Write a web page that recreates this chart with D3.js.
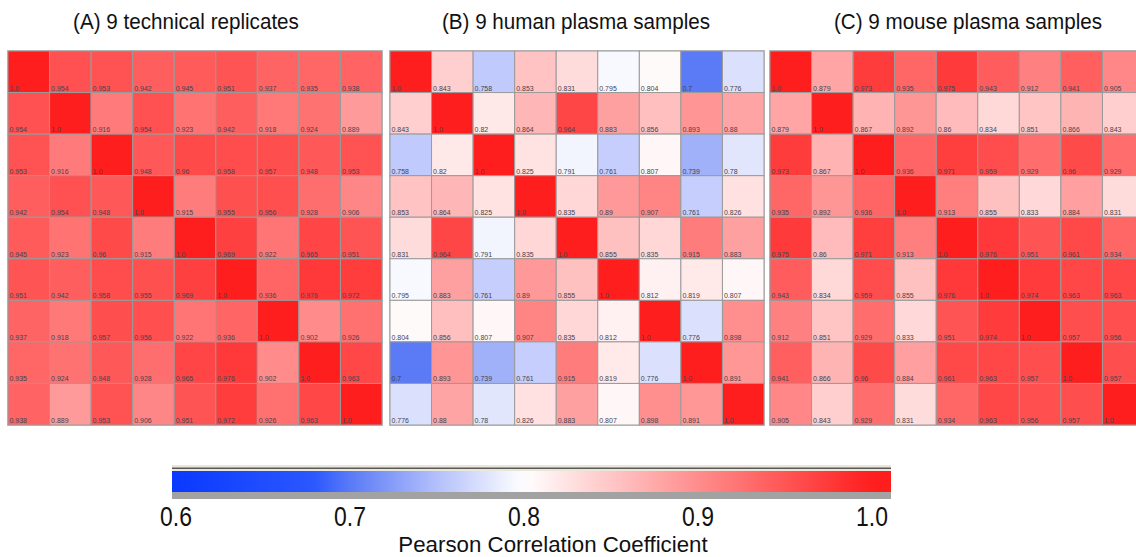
<!DOCTYPE html>
<html>
<head>
<meta charset="utf-8">
<script src="https://cdn.jsdelivr.net/npm/d3@7"></script>
<style>
  html, body { margin: 0; padding: 0; background: #fff; }
  svg { display: block; }
</style>
</head>
<body>
<svg id="chart" width="1136" height="557"></svg>
<script>
// ---- DATA ----
const samples = ["1","2","3","4","5","6","7","8","9"];
const panelTitles = ["(A) 9 technical replicates", "(B) 9 human plasma samples", "(C) 9 mouse plasma samples"];

const matrixA = [
  [1.0, .954, .953, .942, .945, .951, .937, .935, .938],
  [.954, 1.0, .916, .954, .923, .942, .918, .924, .889],
  [.953, .916, 1.0, .948, .96, .958, .957, .948, .953],
  [.942, .954, .948, 1.0, .915, .955, .956, .928, .906],
  [.945, .923, .96, .915, 1.0, .969, .922, .965, .951],
  [.951, .942, .958, .955, .969, 1.0, .936, .976, .972],
  [.937, .918, .957, .956, .922, .936, 1.0, .902, .926],
  [.935, .924, .948, .928, .965, .976, .902, 1.0, .963],
  [.938, .889, .953, .906, .951, .972, .926, .963, 1.0]
];
const matrixB = [
  [1.0, .843, .758, .853, .831, .795, .804, .7, .776],
  [.843, 1.0, .82, .864, .964, .883, .856, .893, .88],
  [.758, .82, 1.0, .825, .791, .761, .807, .739, .78],
  [.853, .864, .825, 1.0, .835, .89, .907, .761, .826],
  [.831, .964, .791, .835, 1.0, .855, .835, .915, .883],
  [.795, .883, .761, .89, .855, 1.0, .812, .819, .807],
  [.804, .856, .807, .907, .835, .812, 1.0, .776, .898],
  [.7, .893, .739, .761, .915, .819, .776, 1.0, .891],
  [.776, .88, .78, .826, .883, .807, .898, .891, 1.0]
];
const matrixC = [
  [1.0, .879, .973, .935, .975, .943, .912, .941, .905],
  [.879, 1.0, .867, .892, .86, .834, .851, .866, .843],
  [.973, .867, 1.0, .936, .971, .959, .929, .96, .929],
  [.935, .892, .936, 1.0, .913, .855, .833, .884, .831],
  [.975, .86, .971, .913, 1.0, .976, .951, .961, .934],
  [.943, .834, .959, .855, .976, 1.0, .974, .963, .963],
  [.912, .851, .929, .833, .951, .974, 1.0, .957, .956],
  [.941, .866, .96, .884, .961, .963, .957, 1.0, .957],
  [.905, .843, .929, .831, .934, .963, .956, .957, 1.0]
];
const colorTicks = [0.6, 0.7, 0.8, 0.9, 1.0];
const colorbarTitle = "Pearson Correlation Coefficient";

// ---- LAYOUT ----
const svg = d3.select("#chart");
const FONT = "Liberation Sans, Arial, sans-serif";
const panels = [
  { m: matrixA, x0: 8,   titleX: 186 },
  { m: matrixB, x0: 390, titleX: 576 },
  { m: matrixC, x0: 770, titleX: 968 }
];
const gridTop = 51, gridSize = 374;

const color = d3.scaleLinear()
  .domain([0.6, 0.68, 0.7, 0.75, 0.8, 0.9, 1.0])
  .range(["#0a3aff", "#2c58ff", "#5a7af6", "#b4c0fb", "#ffffff", "#ff8d8d", "#ff1e1e"])
  .clamp(true);

const fmt = v => v === 1 ? "1.0" : String(+v);

panels.forEach((p, pi) => {
  const xs = d3.scaleBand().domain(samples).range([p.x0, p.x0 + gridSize]);
  const ys = d3.scaleBand().domain(samples).range([gridTop, gridTop + gridSize]);
  const g = svg.append("g");
  const cells = [];
  p.m.forEach((row, ri) => row.forEach((v, ci) => cells.push({ r: samples[ri], c: samples[ci], v })));

  g.append("rect")
    .attr("x", p.x0 - 0.5).attr("y", gridTop - 0.5)
    .attr("width", gridSize + 1).attr("height", gridSize + 1)
    .attr("fill", "none").attr("stroke", "#c8c8c8").attr("stroke-width", 1);

  g.selectAll("rect.cell").data(cells).enter().append("rect")
    .attr("class", "cell")
    .attr("x", d => xs(d.c)).attr("y", d => ys(d.r))
    .attr("width", xs.bandwidth()).attr("height", ys.bandwidth())
    .attr("fill", d => color(d.v))
    .attr("stroke", "#9a9a9a").attr("stroke-width", 1);

  g.selectAll("text.val").data(cells).enter().append("text")
    .attr("class", "val")
    .attr("x", d => xs(d.c) + 1.5)
    .attr("y", d => ys(d.r) + ys.bandwidth() - 2)
    .attr("font-family", FONT)
    .attr("font-size", 7)
    .attr("fill", "#44444f")
    .text(d => fmt(d.v));

  svg.append("text")
    .attr("transform", `translate(${p.titleX},29) scale(0.96,1.05)`)
    .attr("text-anchor", "middle")
    .attr("font-family", FONT)
    .attr("font-size", 21.5)
    .attr("fill", "#111")
    .text(panelTitles[pi]);
});

// ---- COLORBAR ----
const cx = d3.scaleLinear().domain([0.6, 1.0]).range([176, 872]);
const barX0 = 172, barX1 = 891;
const defs = svg.append("defs");
const grad = defs.append("linearGradient").attr("id", "cbar")
  .attr("x1", "0%").attr("x2", "100%").attr("y1", "0%").attr("y2", "0%");
d3.range(0, 1.0001, 0.02).forEach(t => {
  const px = barX0 + t * (barX1 - barX0);
  grad.append("stop").attr("offset", (t * 100) + "%").attr("stop-color", color(cx.invert(px)));
});

const cb = svg.append("g");
cb.append("rect").attr("x", barX0).attr("y", 465).attr("width", barX1 - barX0).attr("height", 8).attr("fill", "#ebe6da");
cb.append("rect").attr("x", barX0).attr("y", 467.5).attr("width", barX1 - barX0).attr("height", 1.5).attr("fill", "#5a5a5a");
cb.append("rect").attr("x", barX0).attr("y", 471).attr("width", barX1 - barX0).attr("height", 22).attr("fill", "url(#cbar)");
cb.append("rect").attr("x", barX0).attr("y", 492).attr("width", barX1 - barX0).attr("height", 7).attr("fill", "#a2a2a2");

cb.selectAll("text.tick").data(colorTicks).enter().append("text")
  .attr("class", "tick")
  .attr("transform", d => `translate(${cx(d)},526) scale(0.85,1)`)
  .attr("text-anchor", "middle")
  .attr("font-family", FONT)
  .attr("font-size", 27)
  .attr("fill", "#111")
  .text(d => d.toFixed(1));

cb.append("text")
  .attr("transform", "translate(553,552) scale(0.97,1)")
  .attr("text-anchor", "middle")
  .attr("font-family", FONT)
  .attr("font-size", 23)
  .attr("fill", "#111")
  .text(colorbarTitle);
</script>
</body>
</html>
